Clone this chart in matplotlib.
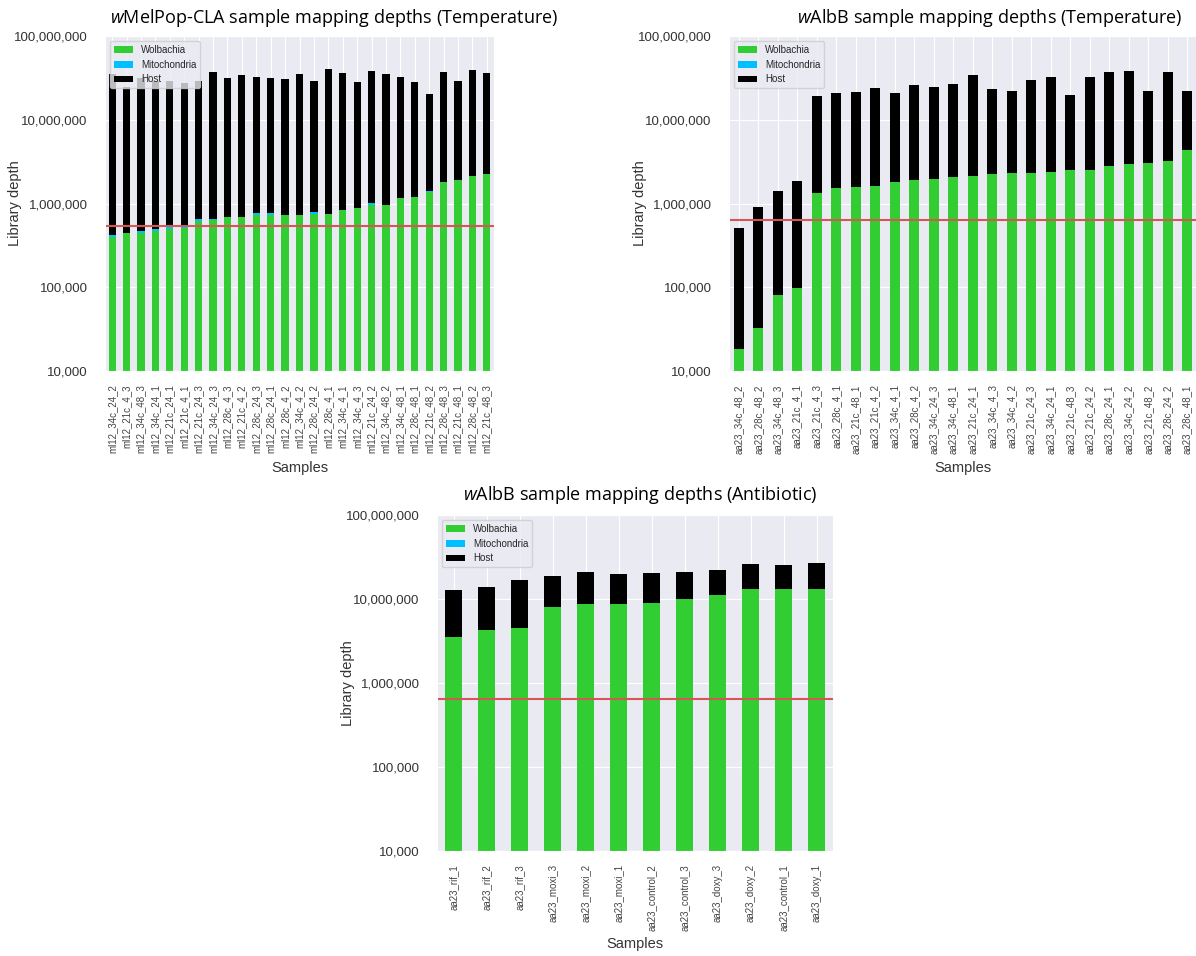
import numpy as np
import matplotlib
matplotlib.use("Agg")
import matplotlib.pyplot as plt
import seaborn as sns
from matplotlib.ticker import FuncFormatter, FixedLocator, NullLocator

sns.set_style("darkgrid")
plt.rcParams["font.family"] = ["Liberation Sans", "DejaVu Sans"]
plt.rcParams["mathtext.fontset"] = "custom"
plt.rcParams["mathtext.it"] = "Open Sans:italic"
plt.rcParams["mathtext.rm"] = "Open Sans"

# wMelPop-CLA, temperature series
ml_samples = ["ml12_34c_24_2", "ml12_21c_4_3", "ml12_34c_48_3", "ml12_34c_24_1",
              "ml12_21c_24_1", "ml12_21c_4_1", "ml12_21c_24_3", "ml12_34c_24_3",
              "ml12_28c_4_3", "ml12_21c_4_2", "ml12_28c_24_3", "ml12_28c_24_1",
              "ml12_28c_4_2", "ml12_34c_4_2", "ml12_28c_24_2", "ml12_28c_4_1",
              "ml12_34c_4_1", "ml12_34c_4_3", "ml12_21c_24_2", "ml12_34c_48_2",
              "ml12_34c_48_1", "ml12_28c_48_1", "ml12_21c_48_2", "ml12_28c_48_3",
              "ml12_21c_48_1", "ml12_28c_48_2", "ml12_21c_48_3"]
ml_wolbachia = [396000, 442000, 450000, 471000, 502000, 516000, 626000, 632000,
                687000, 693000, 732000, 732000, 726000, 726000, 759000, 752000,
                840000, 880000, 972000, 964000, 1159000, 1202000, 1390000, 1815000,
                1918000, 2140000, 2220000]
ml_mito = [26000, 5000, 21000, 22000, 23000, 8000, 36000, 30000, 5000, 5000,
           33000, 40000, 5000, 5000, 35000, 5000, 5000, 5000, 45000, 5000,
           8000, 6000, 6000, 6000, 6000, 6000, 6000]
ml_host = [34780000, 23850000, 31330000, 28210000, 28180000, 26980000, 28040000,
           36540000, 31110000, 33800000, 31840000, 31030000, 29870000, 34770000,
           27910000, 39940000, 35260000, 27520000, 37480000, 34530000, 31430000,
           26990000, 18700000, 35380000, 27280000, 37450000, 33470000]
ml_cutoff = 541000

# wAlbB, temperature series
aa_samples = ["aa23_34c_48_2", "aa23_28c_48_2", "aa23_34c_48_3", "aa23_21c_4_1",
              "aa23_21c_4_3", "aa23_28c_4_1", "aa23_21c_48_1", "aa23_21c_4_2",
              "aa23_34c_4_1", "aa23_28c_4_2", "aa23_34c_24_3", "aa23_34c_48_1",
              "aa23_21c_24_1", "aa23_34c_4_3", "aa23_34c_4_2", "aa23_21c_24_3",
              "aa23_34c_24_1", "aa23_21c_48_3", "aa23_21c_24_2", "aa23_28c_24_1",
              "aa23_34c_24_2", "aa23_21c_48_2", "aa23_28c_24_2", "aa23_28c_48_1"]
aa_wolbachia = [18300, 32900, 80900, 99000, 1330000, 1539000, 1582000, 1626000,
                1800000, 1934000, 1988000, 2065000, 2159000, 2281000, 2325000,
                2344000, 2390000, 2504000, 2525000, 2796000, 2954000, 3036000,
                3236000, 4295000]
aa_mito = [0] * 24
aa_host = [497700, 871000, 1347000, 1767000, 18020000, 19080000, 19840000,
           22490000, 18820000, 24050000, 22330000, 24640000, 31680000, 20990000,
           19710000, 27150000, 30260000, 17010000, 29510000, 34350000, 34820000,
           18740000, 33510000, 17920000]
aa_cutoff = 637000

# wAlbB, antibiotic series
ab_samples = ["aa23_rif_1", "aa23_rif_2", "aa23_rif_3", "aa23_moxi_3", "aa23_moxi_2",
              "aa23_moxi_1", "aa23_control_2", "aa23_control_3", "aa23_doxy_3",
              "aa23_doxy_2", "aa23_control_1", "aa23_doxy_1"]
ab_wolbachia = [3490000, 4260000, 4540000, 8090000, 8620000, 8690000, 9020000,
                9880000, 11030000, 13010000, 13130000, 13250000]
ab_mito = [0] * 12
ab_host = [9300000, 9500000, 12430000, 10830000, 12150000, 10970000, 11200000,
           10880000, 11070000, 13060000, 12460000, 13770000]
ab_cutoff = 637000

WOL_C = "#32cd32"
MITO_C = "#00bfff"
HOST_C = "black"
CUT_C = "#d65555"


def depth_plot(ax, samples, wol, mito, host, cutoff):
    x = np.arange(len(samples))
    wol = np.array(wol, dtype=float)
    mito = np.array(mito, dtype=float)
    host = np.array(host, dtype=float)
    ax.set_yscale("log")
    ax.bar(x, wol, 0.5, color=WOL_C, linewidth=0, label="Wolbachia")
    ax.bar(x, mito, 0.5, bottom=wol, color=MITO_C, linewidth=0, label="Mitochondria")
    ax.bar(x, host, 0.5, bottom=wol + mito, color=HOST_C, linewidth=0, label="Host")
    ax.axhline(cutoff, color=CUT_C, lw=1.5)
    ax.set_ylim(1e4, 1e8)
    ax.set_xlim(-0.5, len(samples) - 0.5)
    ax.yaxis.set_major_locator(FixedLocator([1e4, 1e5, 1e6, 1e7, 1e8]))
    ax.yaxis.set_minor_locator(NullLocator())
    ax.yaxis.set_major_formatter(FuncFormatter(lambda v, p: f"{v:,.0f}"))
    ax.set_xticks(x)
    ax.set_xticklabels(samples, rotation=90)
    ax.tick_params(axis="x", labelsize=7, pad=6, labelcolor="#444444")
    ax.tick_params(axis="y", labelsize=9.5, pad=9, labelcolor="#333333")
    ax.set_xlabel("Samples", fontsize=10.5, color="#333333")
    ax.set_ylabel("Library depth", fontsize=10.5, color="#333333")
    ax.legend(loc="upper left", fontsize=7)


W, H = 1196, 956
fig = plt.figure(figsize=(W / 100, H / 100), dpi=100)


def px_axes(left, top, right, bottom):
    return fig.add_axes([left / W, 1 - bottom / H, (right - left) / W, (bottom - top) / H])


ax1 = px_axes(105, 36, 494, 371)
ax2 = px_axes(729, 36, 1197, 371)
ax3 = px_axes(437, 515, 833, 851)

depth_plot(ax1, ml_samples, ml_wolbachia, ml_mito, ml_host, ml_cutoff)
depth_plot(ax2, aa_samples, aa_wolbachia, aa_mito, aa_host, aa_cutoff)
depth_plot(ax3, ab_samples, ab_wolbachia, ab_mito, ab_host, ab_cutoff)

for ax in (ax1, ax2):
    ax.xaxis.set_label_coords(0.5, -0.27)
ax3.xaxis.set_label_coords(0.5, -0.255)
ax1.yaxis.set_label_coords(-0.214, 0.5)
ax2.yaxis.set_label_coords(-0.176, 0.5)
ax3.yaxis.set_label_coords(-0.207, 0.5)

title_kw = dict(ha="center", va="center", fontsize=13, family="Open Sans", color="black")
fig.text(334 / W, 1 - 18 / H, r"$\mathit{w}$MelPop-CLA sample mapping depths (Temperature)", **title_kw)
fig.text(990 / W, 1 - 18 / H, r"$\mathit{w}$AlbB sample mapping depths (Temperature)", **title_kw)
fig.text(640 / W, 1 - 495 / H, r"$\mathit{w}$AlbB sample mapping depths (Antibiotic)", **title_kw)

fig.savefig("out.png", dpi=100)
